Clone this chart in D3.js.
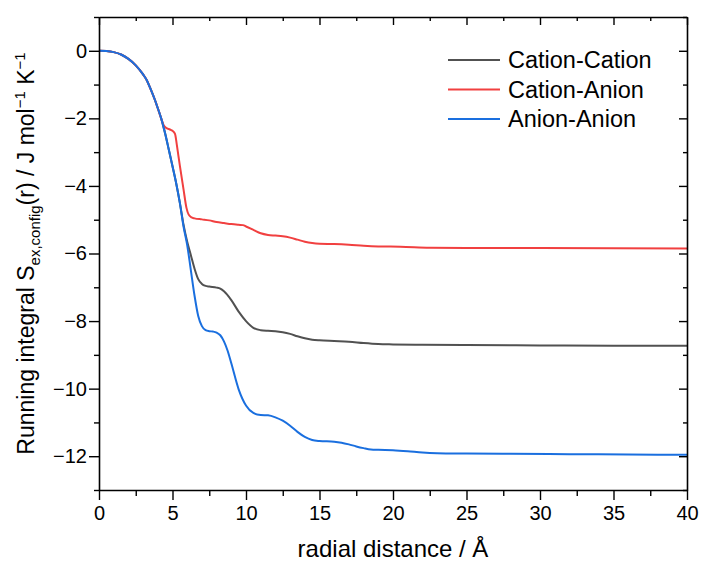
<!DOCTYPE html>
<html>
<head>
<meta charset="utf-8">
<script src="https://cdn.jsdelivr.net/npm/d3@7"></script>
<style>
  body { margin: 0; background: #fff; }
  text { font-family: "Liberation Sans", Arial, sans-serif; fill: #000; }
</style>
</head>
<body>
<svg id="chart" width="701" height="562"></svg>
<script>
// Running integral data: [r (Å), S (J mol-1 K-1)]
const cationCation = [
  [0, 0], [0.5, -0.008], [1, -0.04], [1.5, -0.11], [2, -0.24], [2.5, -0.43],
  [3, -0.7], [3.25, -0.87], [3.5, -1.12], [3.8, -1.45], [4, -1.7], [4.25, -2.03],
  [4.5, -2.45], [4.75, -2.93], [5, -3.42], [5.25, -3.92], [5.5, -4.5], [5.75, -5.15],
  [6, -5.65], [6.25, -6.05], [6.5, -6.45], [6.75, -6.76], [7, -6.9], [7.25, -6.96],
  [7.5, -6.98], [8, -7.01], [8.25, -7.04], [8.5, -7.12], [9, -7.38], [9.5, -7.72],
  [10, -8.0], [10.5, -8.2], [11, -8.27], [11.5, -8.29], [12, -8.3], [12.5, -8.33],
  [13, -8.38], [13.5, -8.45], [14, -8.51], [14.5, -8.55], [15, -8.57], [16, -8.59],
  [17, -8.61], [18, -8.65], [19, -8.68], [20, -8.69], [22, -8.7], [25, -8.71],
  [30, -8.72], [35, -8.73], [40, -8.73]
];
const cationAnion = [
  [0, 0], [0.5, -0.008], [1, -0.04], [1.5, -0.11], [2, -0.24], [2.5, -0.43],
  [3, -0.7], [3.25, -0.87], [3.5, -1.12], [3.8, -1.45], [4, -1.7], [4.25, -2.03],
  [4.4, -2.2], [4.6, -2.29], [4.83, -2.33], [5, -2.37], [5.17, -2.46], [5.3, -2.8],
  [5.4, -3.1], [5.5, -3.4], [5.75, -4.1], [5.95, -4.65], [6.1, -4.85], [6.3, -4.93],
  [6.5, -4.96], [7, -4.99], [7.5, -5.02], [8, -5.07], [8.5, -5.1], [9, -5.13],
  [9.5, -5.15], [9.8, -5.16], [10, -5.2], [10.5, -5.3], [11, -5.4], [11.5, -5.45],
  [12, -5.47], [12.5, -5.49], [13, -5.53], [13.5, -5.59], [14, -5.65], [14.5, -5.69],
  [15, -5.71], [16, -5.72], [17, -5.74], [18, -5.77], [19, -5.79], [20.5, -5.8],
  [22.5, -5.83], [25, -5.84], [30, -5.84], [40, -5.85]
];
const anionAnion = [
  [0, 0], [0.5, -0.008], [1, -0.04], [1.5, -0.11], [2, -0.24], [2.5, -0.43],
  [3, -0.7], [3.25, -0.87], [3.5, -1.12], [3.8, -1.45], [4, -1.7], [4.25, -2.03],
  [4.5, -2.45], [4.75, -2.93], [5, -3.42], [5.25, -3.92], [5.5, -4.5], [5.75, -5.2],
  [6, -5.75], [6.25, -6.5], [6.5, -7.25], [6.75, -7.85], [7, -8.15], [7.25, -8.27],
  [7.5, -8.3], [7.75, -8.31], [8, -8.34], [8.25, -8.42], [8.5, -8.6], [8.75, -8.88],
  [9, -9.25], [9.5, -10.02], [10, -10.5], [10.5, -10.72], [11, -10.78], [11.5, -10.79],
  [12, -10.85], [12.5, -10.95], [13, -11.1], [13.5, -11.28], [14, -11.43], [14.5, -11.52],
  [15, -11.55], [16, -11.57], [16.5, -11.6], [17, -11.65], [17.5, -11.71], [18, -11.76],
  [18.5, -11.8], [19, -11.81], [20, -11.82], [21, -11.85], [22, -11.89], [23, -11.91],
  [25, -11.92], [28, -11.93], [32, -11.94], [36, -11.95], [40, -11.96]
];

const seriesNames = ["Cation-Cation", "Cation-Anion", "Anion-Anion"];
const seriesColors = ["#515151", "#F14040", "#1A6FDF"];
const seriesData = [cationCation, cationAnion, anionAnion];

const xMajorTicks = [0, 5, 10, 15, 20, 25, 30, 35, 40];
const xMinorTicks = [2.5, 7.5, 12.5, 17.5, 22.5, 27.5, 32.5, 37.5];
const yMajorTicks = [0, -2, -4, -6, -8, -10, -12];
const yMinorTicks = [1, -1, -3, -5, -7, -9, -11, -13];

const margin = { top: 17, right: 14, bottom: 72, left: 99 };
const W = 701, H = 562;
const w = W - margin.left - margin.right;
const h = H - margin.top - margin.bottom;

const svg = d3.select("#chart");
const g = svg.append("g").attr("transform", `translate(${margin.left},${margin.top})`);

const x = d3.scaleLinear().domain([0, 40]).range([0, w]);
const y = d3.scaleLinear().domain([-13, 1]).range([h, 0]);

// curves (gray first, blue on top)
const line = d3.line()
  .x(d => x(d[0]))
  .y(d => y(d[1]))
  .curve(d3.curveMonotoneX);

seriesData.forEach((data, i) => {
  g.append("path")
    .datum(data)
    .attr("fill", "none")
    .attr("stroke", seriesColors[i])
    .attr("stroke-width", 2)
    .attr("d", line);
});

// axes
function styleAxis(sel) {
  sel.select(".domain").attr("stroke", "#000").attr("stroke-width", 1.6);
  sel.selectAll(".tick line").attr("stroke", "#000").attr("stroke-width", 1.4);
  sel.selectAll("text").style("font-size", "20px").style("font-family", '"Liberation Sans", Arial, sans-serif');
}

const fmt = d3.format("");

g.append("g")
  .attr("transform", `translate(0,${h})`)
  .call(d3.axisBottom(x).tickValues(xMajorTicks).tickSize(10).tickPadding(6).tickSizeOuter(0).tickFormat(fmt))
  .call(styleAxis);
g.append("g")
  .attr("transform", `translate(0,${h})`)
  .call(d3.axisBottom(x).tickValues(xMinorTicks).tickSize(6).tickFormat(""))
  .call(s => s.select(".domain").remove())
  .call(styleAxis);

g.append("g")
  .call(d3.axisLeft(y).tickValues(yMajorTicks).tickSize(10).tickPadding(2).tickSizeOuter(0).tickFormat(fmt))
  .call(styleAxis);
g.append("g")
  .call(d3.axisLeft(y).tickValues(yMinorTicks).tickSize(5).tickFormat(""))
  .call(s => s.select(".domain").remove())
  .call(styleAxis);

// mirrored axes, ticks pointing inward
g.append("g")
  .call(d3.axisBottom(x).tickValues(xMajorTicks).tickSize(8).tickSizeOuter(0).tickFormat(""))
  .call(styleAxis);
g.append("g")
  .call(d3.axisBottom(x).tickValues(xMinorTicks).tickSize(4).tickFormat(""))
  .call(s => s.select(".domain").remove())
  .call(styleAxis);
g.append("g")
  .attr("transform", `translate(${w},0)`)
  .call(d3.axisLeft(y).tickValues(yMajorTicks).tickSize(8).tickSizeOuter(0).tickFormat(""))
  .call(styleAxis);
g.append("g")
  .attr("transform", `translate(${w},0)`)
  .call(d3.axisLeft(y).tickValues(yMinorTicks).tickSize(4).tickFormat(""))
  .call(s => s.select(".domain").remove())
  .call(styleAxis);

// axis titles
svg.append("text")
  .attr("x", margin.left + w / 2)
  .attr("y", 557)
  .attr("text-anchor", "middle")
  .style("font-size", "24px")
  .text("radial distance / Å");

const yt = svg.append("text")
  .attr("transform", `translate(34,${margin.top + h / 2}) rotate(-90)`)
  .attr("text-anchor", "middle")
  .style("font-size", "23px");
yt.append("tspan").text("Running integral S");
yt.append("tspan").attr("dy", 6).style("font-size", "15px").text("ex,config");
yt.append("tspan").attr("dy", -6).text("(r) / J mol");
yt.append("tspan").attr("dy", -9).style("font-size", "15px").text("−1");
yt.append("tspan").attr("dy", 9).text(" K");
yt.append("tspan").attr("dy", -9).style("font-size", "15px").text("−1");

// legend
const legend = svg.append("g");
seriesNames.forEach((name, i) => {
  const ly = 60 + i * 29.5;
  legend.append("line")
    .attr("x1", 448).attr("x2", 500)
    .attr("y1", ly).attr("y2", ly)
    .attr("stroke", seriesColors[i])
    .attr("stroke-width", 2);
  legend.append("text")
    .attr("x", 508).attr("y", ly)
    .attr("dy", "0.36em")
    .style("font-size", "23.5px")
    .text(name);
});
</script>
</body>
</html>
